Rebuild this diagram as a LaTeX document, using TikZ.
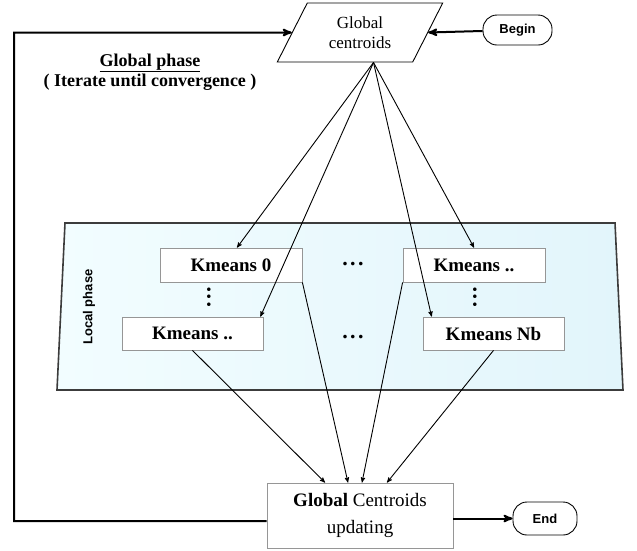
\documentclass[tikz,border=0pt]{standalone}
\usepackage{fontspec}
\setmainfont{Liberation Serif}
\setsansfont{Liberation Sans}
\usetikzlibrary{arrows,shapes.geometric}
\definecolor{localfill}{RGB}{242,253,255}
\definecolor{localfill2}{RGB}{226,245,251}
\definecolor{localedge}{RGB}{60,60,60}
\definecolor{boxedge}{RGB}{150,150,150}

\begin{document}
\begin{tikzpicture}[x=1pt,y=-1pt,>=stealth',
  every node/.style={inner sep=0pt},
  kmeans/.style={draw=boxedge,fill=white,line width=0.8pt,minimum width=142,minimum height=34,font=\bfseries\fontsize{19}{21}\selectfont},
  term/.style={draw,line width=0.9pt,rounded corners=14,minimum width=69,minimum height=30,font=\sffamily\bfseries\fontsize{13}{15}\selectfont},
  spoke/.style={->,line width=0.9pt},
  backline/.style={->,line width=2pt},
  ellip/.style={font=\bfseries\fontsize{22}{22}\selectfont}]
    \useasboundingbox (0,0) rectangle (637,550);
    % local phase area
    \shadedraw[left color=localfill,right color=localfill2,draw=localedge,line width=1.6pt]
        (65,223) -- (615,223) -- (623,390) -- (57,390) -- cycle;
    \node[rotate=90,font=\sffamily\bfseries\fontsize{13}{15}\selectfont] (lp) at (89,307) {Local phase};

    \node[trapezium,trapezium left angle=61,trapezium right angle=119,trapezium stretches=true,
          draw,fill=white,line width=0.9pt,minimum width=166,minimum height=59,align=center,
          font=\fontsize{17}{20}\selectfont] (gc) at (360,32.5) {Global\\centroids};
    \node[term] (begin) at (517.5,30) {Begin};
    \node[align=center,font=\bfseries\fontsize{18}{20}\selectfont] (gp) at (150,72)
        {\underline{Global phase}\\( Iterate until convergence )};

    \node[kmeans] (k0) at (231,265) {Kmeans 0};
    \node[kmeans] (k1) at (474,265) {Kmeans ..};
    \node[kmeans,minimum width=141,minimum height=33] (k2) at (192.5,333.5) {Kmeans ..};
    \node[kmeans,minimum width=141,minimum height=33] (k3) at (493.5,333.5) {Kmeans Nb};
    \node[ellip] (hd0) at (353,264) {.\kern2.5pt.\kern2.5pt.};
    \node[ellip] (hd1) at (353,337) {.\kern2.5pt.\kern2.5pt.};
    \node[ellip,rotate=90] (vd0) at (209,297) {.\kern2pt.\kern2pt.};
    \node[ellip,rotate=90] (vd1) at (475,297) {.\kern2pt.\kern2pt.};

    \node[draw=boxedge,fill=white,line width=0.9pt,minimum width=186,minimum height=65,align=center,
          font=\fontsize{19}{27}\selectfont] (upd) at (360,515.5) {\textbf{Global} Centroids\\updating};
    \node[term,minimum width=64,minimum height=33] (end) at (545,518.5) {End};

    \coordinate (fan) at ([xshift=13.5pt]gc.south);
    \draw[spoke] (fan) -- ([xshift=6pt]k0.north);
    \draw[spoke] (fan) -- ([xshift=-3pt]k2.north east);
    \draw[spoke] (fan) -- ([xshift=9pt]k3.north west);
    \draw[spoke] (fan) -- (k1.north);
    \draw[spoke] (k2.south) -- ([xshift=-35pt]upd.north);
    \draw[spoke] (k0.south east) -- ([xshift=-12pt]upd.north);
    \draw[spoke] (k1.south west) -- ([xshift=2pt]upd.north);
    \draw[spoke] (k3.south) -- ([xshift=27pt]upd.north);

    % iteration loop
    \coordinate (cb) at (14,521);
    \coordinate (ct) at (14,32.5);
    \draw[backline] (upd.west |- cb) -- (cb) -- (ct) -- (gc.west);
    \draw[backline] (begin) -- (gc.east);
    \draw[backline] (upd.east |- end) -- (end);
\end{tikzpicture}
\end{document}
